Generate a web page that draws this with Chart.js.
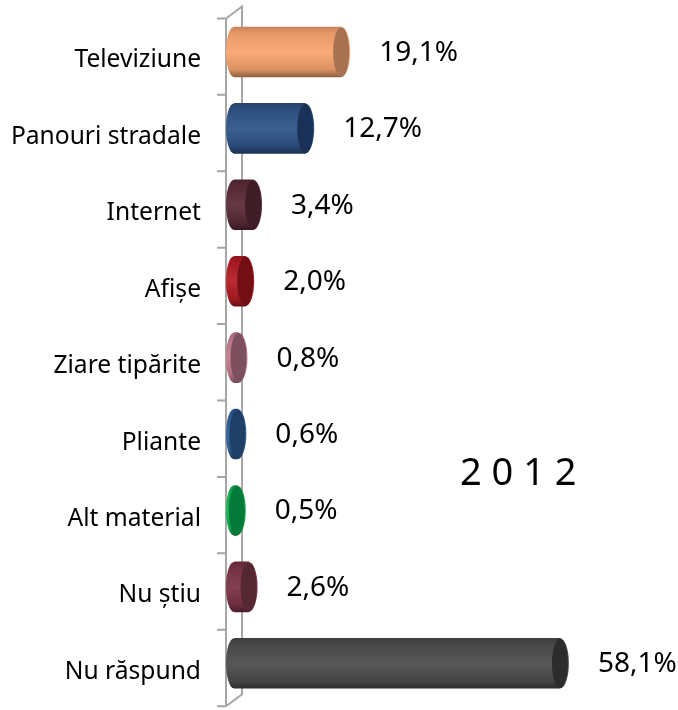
<!DOCTYPE html>
<html>
<head>
<meta charset="utf-8">
<style>
body { margin: 0; background: #fff; }
#wrap { width: 678px; height: 710px; }
</style>
<script src="https://cdn.jsdelivr.net/npm/chart.js@4"></script>
</head>
<body>
<div id="wrap"><canvas id="c" width="678" height="710"></canvas></div>
<script>
const categories = ["Televiziune", "Panouri stradale", "Internet", "Afișe", "Ziare tipărite", "Pliante", "Alt material", "Nu știu", "Nu răspund"];
const values = [19.1, 12.7, 3.4, 2.0, 0.8, 0.6, 0.5, 2.6, 58.1];
const bodyColors = ["#f9a56f", "#30558a", "#5c2c3a", "#b51c24", "#c67c90", "#2f5f98", "#10b44c", "#7c3448", "#4d4d4d"];
const capColors = ["#a87150", "#1b3258", "#3f1d27", "#730e15", "#7d5060", "#1f3f66", "#067a3a", "#552730", "#2c2c2c"];
const yearLabel = "2 0 1 2";

const fontName = '"Noto Sans", Tahoma, sans-serif';
const barShift = -8.5;
const barH = 50;
const capR = 8;

function shade(hex, f) {
    let n = parseInt(hex.slice(1), 16);
    let ch = [(n >> 16) & 255, (n >> 8) & 255, n & 255].map(v => Math.round(f > 1 ? v + (255 - v) * (f - 1) : v * f));
    return "rgb(" + ch.join(",") + ")";
}

function bodyGradient(ctx, color, cy) {
    let g = ctx.createLinearGradient(0, cy - barH / 2, 0, cy + barH / 2);
    g.addColorStop(0, shade(color, 0.8));
    g.addColorStop(0.12, shade(color, 0.92));
    g.addColorStop(0.5, shade(color, 1.06));
    g.addColorStop(0.85, shade(color, 0.88));
    g.addColorStop(1, shade(color, 0.58));
    return g;
}

const cylinders = {
    id: "cylinders",
    beforeDatasetsDraw(chart) {
        const ctx = chart.ctx, y = chart.scales.y;
        const step = y.getPixelForValue(1) - y.getPixelForValue(0);
        const frontX = 226, backX = 242, rise = 12;
        const top = y.getPixelForValue(0) - step / 2 - 3.8;
        const bottom = top + step * categories.length;

        ctx.save();
        ctx.strokeStyle = "#a6a6a6";
        ctx.lineWidth = 2;
        ctx.beginPath();
        ctx.moveTo(frontX, top);
        ctx.lineTo(frontX, bottom);
        ctx.moveTo(frontX, top);
        ctx.lineTo(backX, top - rise);
        ctx.lineTo(backX, bottom - rise);
        ctx.lineTo(frontX, bottom);
        for (let i = 0; i <= categories.length; i++) {
            ctx.moveTo(frontX - 9, top + step * i);
            ctx.lineTo(frontX, top + step * i);
        }
        ctx.stroke();
        ctx.restore();

        ctx.save();
        ctx.translate(0, barShift);
    },
    afterDatasetsDraw(chart) {
        const ctx = chart.ctx;
        chart.getDatasetMeta(0).data.forEach((bar, i) => {
            // rounded far end, same shading as the body
            ctx.fillStyle = bodyGradient(ctx, bodyColors[i], bar.y);
            ctx.beginPath();
            ctx.ellipse(bar.base, bar.y, capR, barH / 2, 0, 0, Math.PI * 2);
            ctx.fill();
            ctx.beginPath();
            ctx.ellipse(bar.x, bar.y, capR + 1, barH / 2, 0, 0, Math.PI * 2);
            ctx.fill();
            // visible cap
            ctx.fillStyle = capColors[i];
            ctx.beginPath();
            ctx.ellipse(bar.x, bar.y, capR, barH / 2 - 0.5, 0, 0, Math.PI * 2);
            ctx.fill();
        });

        ctx.fillStyle = "#000";
        ctx.font = "28px " + fontName;
        ctx.textAlign = "left";
        ctx.textBaseline = "middle";
        chart.getDatasetMeta(0).data.forEach((bar, i) => {
            ctx.fillText(values[i].toFixed(1).replace(".", ",") + "%", bar.x + capR + 30, bar.y + 1);
        });
        ctx.restore();

        ctx.save();
        ctx.fillStyle = "#000";
        ctx.font = "38px " + fontName;
        ctx.textAlign = "left";
        ctx.textBaseline = "middle";
        ctx.fillText(yearLabel, 460, 474);
        ctx.restore();
    }
};

new Chart(document.getElementById("c"), {
    type: "bar",
    data: {
        labels: categories,
        datasets: [{
            data: values,
            barThickness: barH,
            backgroundColor(c) {
                const i = c.dataIndex;
                if (i === undefined) return bodyColors[0];
                const cy = c.chart.scales.y ? c.chart.scales.y.getPixelForValue(i) : NaN;
                if (!Number.isFinite(cy)) return bodyColors[i];
                return bodyGradient(c.chart.ctx, bodyColors[i], cy);
            }
        }]
    },
    options: {
        indexAxis: "y",
        responsive: false,
        animation: false,
        layout: { padding: { top: 22.25, bottom: 0, right: 107.4, left: 0 } },
        plugins: { legend: { display: false }, tooltip: { enabled: false } },
        scales: {
            x: { display: false, min: 0, max: 60 },
            y: {
                afterFit(scale) {
                    scale.width = 234;
                    // labels would otherwise push the plot area in from top and bottom
                    scale.paddingTop = 0;
                    scale.paddingBottom = 0;
                },
                border: { display: false },
                grid: { display: false, drawTicks: false },
                ticks: { color: "#000", padding: 33, font: { family: fontName, size: 24.6 } }
            }
        }
    },
    plugins: [cylinders]
});
</script>
</body>
</html>
